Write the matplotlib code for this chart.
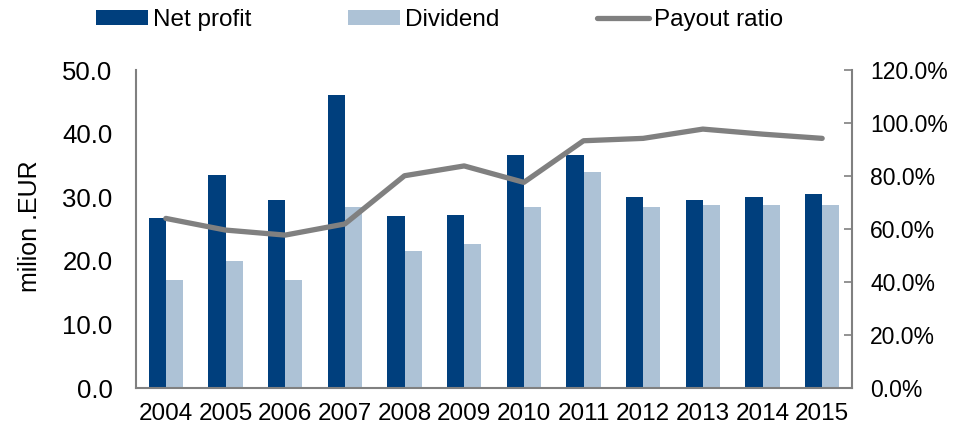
import matplotlib.pyplot as plt
import numpy as np
from matplotlib.ticker import FuncFormatter

plt.rcParams['font.family'] = ['Liberation Sans', 'DejaVu Sans']

years = ["2004", "2005", "2006", "2007", "2008", "2009",
         "2010", "2011", "2012", "2013", "2014", "2015"]
net_profit = [26.7, 33.5, 29.6, 46.0, 27.1, 27.2, 36.7, 36.6, 30.1, 29.5, 30.1, 30.5]
dividend = [17.0, 19.9, 17.0, 28.5, 21.5, 22.7, 28.5, 34.0, 28.5, 28.7, 28.7, 28.7]
payout = [64.0, 59.6, 57.7, 61.9, 80.1, 83.8, 77.6, 93.3, 94.2, 97.7, 95.8, 94.2]

navy = "#003f7d"
light = "#adc2d6"
grey = "#808080"

fig = plt.figure(figsize=(9.68, 4.28), dpi=100)
ax = fig.add_axes([136 / 968, 40 / 428, 716 / 968, 318 / 428])
ax2 = ax.twinx()

x = np.arange(len(years))
w = 0.285
ax.bar(x - w / 2, net_profit, width=w, color=navy, label="Net profit", zorder=2)
ax.bar(x + w / 2, dividend, width=w, color=light, label="Dividend", zorder=2)
ax2.plot(x, payout, color=grey, lw=3.8, label="Payout ratio", solid_capstyle='round')

ax.set_xlim(-0.5, len(years) - 0.5)
ax.set_ylim(0, 50)
ax.set_yticks(np.arange(0, 51, 10))
ax.yaxis.set_major_formatter(FuncFormatter(lambda v, p: f"{v:.1f}"))
ax.tick_params(axis='y', length=0, pad=17, labelsize=18.5)
ax.set_xticks(x)
ax.set_xticklabels(years)
ax.tick_params(axis='x', length=0, pad=11, labelsize=17.5)
fig.text(30 / 968, 1 - 226 / 428, "milion .EUR", rotation=90, fontsize=18,
         ha='center', va='center')

ax2.set_ylim(0, 120)
ax2.set_yticks(np.arange(0, 121, 20))
ax2.yaxis.set_major_formatter(FuncFormatter(lambda v, p: f"{v:.1f}%"))
ax2.tick_params(axis='y', direction='in', length=6, width=1.2, color=grey, pad=13, labelsize=16.5)

for a in (ax, ax2):
    a.spines['top'].set_visible(False)
    for s in ('left', 'right', 'bottom'):
        a.spines[s].set_color(grey)
        a.spines[s].set_linewidth(1.5)
ax.spines['right'].set_visible(False)
ax2.spines['left'].set_visible(False)
ax2.spines['bottom'].set_visible(False)

handles = ax.get_legend_handles_labels()[0] + ax2.get_legend_handles_labels()[0]
labels = ["Net profit", "Dividend", "Payout ratio"]
fig.legend(handles, labels, loc='center left', bbox_to_anchor=(96 / 968, 1 - 20 / 428),
           ncol=3, frameon=False, fontsize=17.5, borderpad=0, borderaxespad=0,
           handlelength=2.14, handleheight=0.6, handletextpad=0.2, columnspacing=4.0)

fig.savefig("out.png", dpi=100)
